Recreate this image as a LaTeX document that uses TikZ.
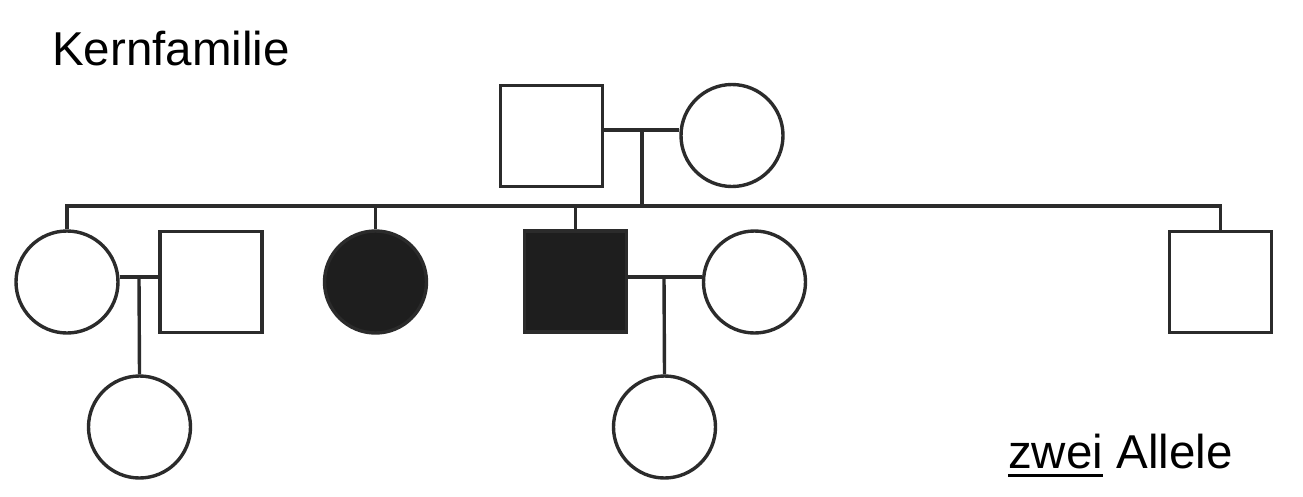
\documentclass[tikz,border=0pt]{standalone}
\usepackage{fontspec}
\setmainfont{Liberation Sans}
\newcommand\myul[1]{\setbox0\hbox{#1}\rlap{\vrule height -5.5pt depth 8.5pt width \wd0}\box0\relax}
\definecolor{ink}{HTML}{2B2B2B}
\definecolor{solid}{HTML}{1E1E1E}
\tikzset{
  line/.style={draw=ink, line width=3.4pt},
  male/.style={line, rectangle, minimum width=102pt, minimum height=101pt, inner sep=0pt, fill=white},
  female/.style={line, circle, minimum size=102pt, inner sep=0pt, fill=white},
  affected/.style={fill=solid},
  lbl/.style={inner sep=0pt, anchor=base west, font=\fontsize{47.5}{56}\selectfont}
}
\begin{document}
\begin{tikzpicture}[x=1pt,y=-1pt]
\useasboundingbox (0,0) rectangle (1303,496);
% generation I
\node[male]   (p1) at (551.5,136) {};
\node[female] (p2) at (732,135.5) {};
% generation II
\node[female] (c1) at (67,282) {};
\node[male]   (s1) at (211,282) {};
\node[female,affected] (fc) at (375.5,282) {};
\node[male,affected]   (fs) at (575.5,281.5) {};
\node[female] (c3) at (754.5,282) {};
\node[male]   (s6) at (1220.5,282) {};
% generation III
\node[female] (g1) at (139.5,427) {};
\node[female] (g2) at (664.5,427) {};
% helper coordinates
\coordinate (m1) at (642,130);
\coordinate (sib) at (642,206);
\coordinate (m2) at (139,277);
\coordinate (m3) at (664,277);
% marriage lines
\draw[line] (p1.east |- m1) -- (p2.west |- m1);
\draw[line] (c1.east |- m2) -- (s1.west |- m2);
\draw[line] (fs.east |- m3) -- (c3.west |- m3);
% descent from gen I
\draw[line] (m1) -- (sib);
\draw[line] (c1.north) -- (c1.north |- sib) -- (s6.north |- sib) -- (s6.north);
\draw[line] (fc.north) -- (fc.north |- sib);
\draw[line] (fs.north) -- (fs.north |- sib);
% descent to gen III
\draw[line] (m2) -- (g1.north);
\draw[line] (m3) -- (g2.north);
% labels
\node[lbl] (t1) at (52,65) {Kernfamilie};
\node[lbl] (t2) at (1008,468) {\myul{zwei} Allele};
\end{tikzpicture}
\end{document}
